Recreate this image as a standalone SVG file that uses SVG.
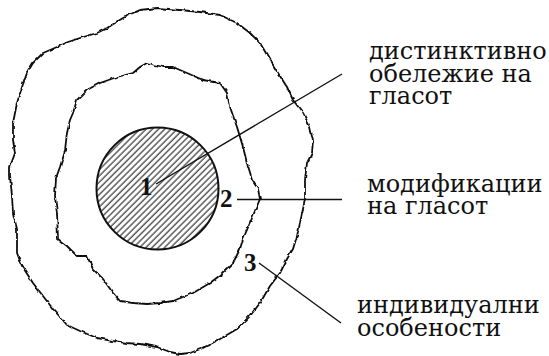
<svg xmlns="http://www.w3.org/2000/svg" width="549" height="356" viewBox="0 0 549 356">
<style>
.blob{fill:none;stroke:#111;stroke-width:1.8;stroke-linejoin:round;stroke-linecap:round}
.conn{fill:none;stroke:#111;stroke-width:1.4}
.lbl{font-family:"DejaVu Serif","Liberation Serif",serif;font-size:24px;fill:#111}
.num{font-family:"Liberation Serif","DejaVu Serif",serif;font-size:25px;font-weight:bold;fill:#111}
</style>
<defs>
<pattern id="hatch" width="4.4" height="10" patternUnits="userSpaceOnUse" patternTransform="rotate(45)">
<line x1="1" y1="0" x2="1" y2="10" stroke="#333" stroke-width="1.2"/>
</pattern>
<filter id="wob" x="-5%" y="-5%" width="110%" height="110%">
<feTurbulence type="fractalNoise" baseFrequency="0.15" numOctaves="2" seed="3"/>
<feDisplacementMap in="SourceGraphic" scale="3.5" xChannelSelector="R" yChannelSelector="G"/>
</filter>
</defs>
<rect width="549" height="356" fill="#fff"/>
<g id="outer">
<path class="blob" filter="url(#wob)" d="M140,10 L157,8 L180,10 L200,12 L220,15 L237,23 L250,33 L260,43 L270,60 L278,73 L287,87 L293,100 L303,113 L310,127 L313,140 L312,153 L307,163 L305,180 L305,199 L303,209 L300,223 L297,236 L293,249 L287,259 L280,273 L270,286 L260,303 L250,316 L237,329 L220,339 L203,348 L190,353 L180,354 L170,352 L157,347 L140,344 L127,343 L113,341 L97,338 L80,331 L67,325 L53,309 L43,296 L33,283 L22,266 L17,253 L17,229 L13,213 L12,196 L10,176 L10,167 L15,153 L13,140 L13,123 L17,103 L22,87 L27,73 L33,63 L43,53 L57,47 L68,42 L80,38 L97,33 L107,28 L123,18 L133,13 Z"/>
</g>
<g id="inner">
<path class="blob" filter="url(#wob)" d="M147,63 L163,67 L173,67 L187,73 L203,80 L220,83 L227,93 L230,107 L237,127 L243,147 L248,167 L252,180 L258,189 L260,199 L257,206 L250,223 L243,239 L240,249 L233,263 L223,273 L210,283 L193,293 L173,301 L160,303 L147,304 L133,303 L120,301 L113,293 L103,279 L93,269 L87,256 L77,256 L67,246 L58,239 L57,213 L55,196 L56,178 L60,167 L65,150 L67,133 L70,120 L73,113 L77,100 L87,90 L100,83 L117,77 L133,73 L140,67 Z"/>
</g>
<g id="core">
<circle cx="157.5" cy="188.5" r="61" fill="url(#hatch)" stroke="#111" stroke-width="2"/>
</g>
<g id="connectors">
<line class="conn" x1="156" y1="184" x2="342" y2="74"/>
<line class="conn" x1="237" y1="199.5" x2="342" y2="199.5"/>
<line class="conn" x1="259" y1="263" x2="341" y2="323"/>
</g>
<g id="n1"><text class="num" x="140" y="195">1</text></g>
<g id="n2"><text class="num" x="220" y="207">2</text></g>
<g id="n3"><text class="num" x="244" y="271">3</text></g>
<g id="label-1">
<text class="lbl" x="369" y="59"><tspan x="369" y="59">дистинктивно</tspan><tspan x="369" y="81.5">обележие на</tspan><tspan x="369" y="103.5">гласот</tspan></text>
</g>
<g id="label-2">
<text class="lbl" x="367" y="192"><tspan x="367" y="192">модификации</tspan><tspan x="367" y="214">на гласот</tspan></text>
</g>
<g id="label-3">
<text class="lbl" x="357" y="313"><tspan x="357" y="313">индивидуални</tspan><tspan x="357" y="336">особености</tspan></text>
</g>
</svg>
